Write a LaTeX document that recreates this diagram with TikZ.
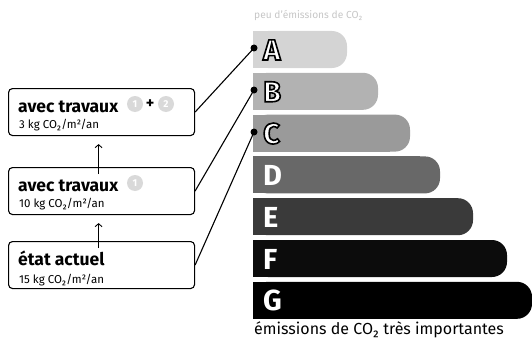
\documentclass[tikz,border=0pt]{standalone}
\usepackage{fontspec}
\setmainfont{Fira Sans}
\usetikzlibrary{arrows.meta}
\definecolor{barA}{HTML}{D4D4D4}
\definecolor{barB}{HTML}{B2B2B2}
\definecolor{barC}{HTML}{9A9A9A}
\definecolor{barD}{HTML}{686868}
\definecolor{barE}{HTML}{3A3A3A}
\definecolor{barF}{HTML}{0C0C0C}
\definecolor{barG}{HTML}{000000}
\newcommand{\outl}[1]{\special{pdf:code 2 Tr 1.6 w 0 G}#1\special{pdf:code 0 Tr}}
\begin{document}
\begin{tikzpicture}[x=1pt,y=-1pt,
  box/.style={draw, line width=1.1pt, rounded corners=4pt, minimum width=186pt, minimum height=47pt, anchor=north west, inner sep=0pt},
  title/.style={anchor=base west, font=\fontsize{17.5}{17.5}\selectfont\bfseries, inner sep=0pt},
  sub/.style={anchor=base west, font=\fontsize{11.5}{11.5}\selectfont, inner sep=0pt},
  num/.style={circle, fill=gray!30, text=white, minimum size=16pt, inner sep=0pt, font=\fontsize{10}{10}\selectfont\bfseries},
  plus/.style={inner sep=0pt, font=\fontsize{16}{16}\selectfont\bfseries},
  dot/.style={circle, fill=black, inner sep=0pt, minimum size=7pt},
  link/.style={line width=1.1pt},
  up/.style={-{Straight Barb[length=3pt,width=7pt]}, line width=0.9pt},
  barletter/.style={anchor=base west, font=\fontsize{29}{29}\selectfont\bfseries, text=white, inner sep=0pt},
  caption/.style={anchor=base west, inner sep=0pt}
]
\useasboundingbox (0,0) rectangle (532,345);

% energy bars
\foreach \i/\r/\c in {0/347/barA,1/378/barB,2/410/barC,3/440/barD,4/473/barE,5/507/barF,6/532/barG}{
  \pgfmathsetmacro{\t}{31+41.8*\i}
  \pgfmathsetmacro{\b}{\t+37}
  \fill[\c, rounded corners=15pt] (253,\t) rectangle (\r,\b);
  \fill[\c] (253,\t) rectangle (\r-20,\b);
}
\node[barletter] (lA) at (263,60) {\outl{A}};
\node[barletter] (lB) at (263,101.8) {\outl{B}};
\node[barletter] (lC) at (263,143.6) {\outl{C}};
\node[barletter] (lD) at (263,185.4) {D};
\node[barletter] (lE) at (263,227.2) {E};
\node[barletter] (lF) at (263,269) {F};
\node[barletter] (lG) at (263,310.8) {G};

\node[caption, text=gray!45, font=\fontsize{10.2}{10.2}\selectfont] (top) at (254,19) {peu d’émissions de CO₂};
\node[caption, font=\fontsize{16}{16}\selectfont] (bottom) at (254,334) {émissions de CO₂ très importantes};

% dots
\node[dot] (dA) at (254,48) {};
\node[dot] (dB) at (254,90) {};
\node[dot] (dC) at (254,132) {};

% boxes
\node[box] (b1) at (8,88) {};
\node[box] (b2) at (8,167) {};
\node[box] (b3) at (8,241) {};

\node[title] (t1) at (18,112) {avec travaux};
\node[num] (n1a) at (135,104) {1};
\node[plus] (p1) at (150,104) {+};
\node[num] (n1b) at (166,104) {2};
\node[sub] (s1) at (19,128) {3 kg CO₂/m²/an};

\node[title] (t2) at (18,191) {avec travaux};
\node[num] (n2) at (135,183) {1};
\node[sub] (s2) at (19,207) {10 kg CO₂/m²/an};

\node[title] (t3) at (18,265) {état actuel};
\node[sub] (s3) at (19,283) {15 kg CO₂/m²/an};

% arrows between boxes
\draw[up] ([xshift=-3pt,yshift=-7pt]b2.north) -- ([xshift=-3pt,yshift=-8pt]b1.south);
\draw[up] ([xshift=-3pt,yshift=-7pt]b3.north) -- ([xshift=-3pt,yshift=-8pt]b2.south);

% connectors
\draw[link] (b1.east) -- (dA.center);
\draw[link] (b2.east) -- (dB.center);
\draw[link] (b3.east) -- (dC.center);
\end{tikzpicture}
\end{document}
